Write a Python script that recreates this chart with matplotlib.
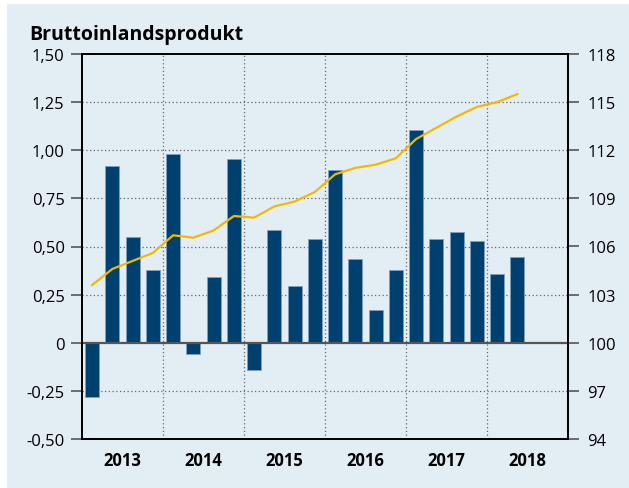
import matplotlib
matplotlib.use("Agg")
import matplotlib.pyplot as plt
import numpy as np
from matplotlib.patches import Rectangle

plt.rcParams['font.family'] = ['Open Sans', 'DejaVu Sans']

years = [2013, 2014, 2015, 2016, 2017, 2018]
quarter_labels = ["2013Q1","2013Q2","2013Q3","2013Q4",
                  "2014Q1","2014Q2","2014Q3","2014Q4",
                  "2015Q1","2015Q2","2015Q3","2015Q4",
                  "2016Q1","2016Q2","2016Q3","2016Q4",
                  "2017Q1","2017Q2","2017Q3","2017Q4",
                  "2018Q1","2018Q2"]
growth = [-0.28, 0.92, 0.55, 0.38,
          0.98, -0.06, 0.34, 0.955,
          -0.14, 0.585, 0.295, 0.54,
          0.895, 0.435, 0.17, 0.38,
          1.105, 0.54, 0.575, 0.53,
          0.355, 0.445]
index = [103.6, 104.6, 105.1, 105.6,
         106.7, 106.55, 107.0, 107.9,
         107.8, 108.5, 108.8, 109.4,
         110.5, 110.9, 111.1, 111.5,
         112.7, 113.4, 114.1, 114.7,
         115.0, 115.5]
left_ticks = [-0.5, -0.25, 0, 0.25, 0.5, 0.75, 1.0, 1.25, 1.5]
left_labels = ["-0,50", "-0,25", "0", "0,25", "0,50", "0,75", "1,00", "1,25", "1,50"]
right_ticks = [94, 97, 100, 103, 106, 109, 112, 115, 118]

BG = '#e3edf4'
BAR = '#00406f'
LINE = '#f5b800'

W, H = 629, 489
fig = plt.figure(figsize=(W/100, H/100), dpi=100, facecolor='white')
fig.patches.append(Rectangle((7/W, 0), 1 - 7/W, 1 - 5/H, transform=fig.transFigure,
                             facecolor=BG, edgecolor='none', zorder=-10))

ax = fig.add_axes([82/W, 1 - 440/H, (568 - 82)/W, (440 - 55)/H])
ax.set_facecolor(BG)

x = np.array([int(q[:4]) + (int(q[-1]) - 0.5) / 4 for q in quarter_labels])

ax.set_xlim(2013, 2019)
ax.set_ylim(-0.5, 1.5)

# gridlines
for yv in left_ticks[1:-1]:
    if yv != 0:
        ax.axhline(yv, color='#666666', lw=0.9, ls=(0, (1, 2)), zorder=1)
for yr in years[1:]:
    ax.axvline(yr, color='#666666', lw=0.9, ls=(0, (1, 2)), zorder=1)

ax.bar(x, growth, width=0.175, color=BAR, edgecolor='#7f9fbd', linewidth=0.6, zorder=2)
ax.axhline(0, color='#555555', lw=1.6, zorder=3)

ax.set_yticks(left_ticks)
ax.set_yticklabels(left_labels)
ax.set_xticks([y + 0.5 for y in years])
ax.set_xticklabels([str(y) for y in years], fontweight='bold')
ax.tick_params(axis='x', length=0, pad=9, labelsize=12)
ax.tick_params(axis='y', length=8, width=1.2, color='#555555', pad=4.5, labelsize=12)

for s in ax.spines.values():
    s.set_color('black')
    s.set_linewidth(1.3)

ax2 = ax.twinx()
ax2.set_ylim(94, 118)
ax2.plot(x, index, color=LINE, lw=1.6, zorder=4)
ax2.set_yticks(right_ticks)
ax2.set_yticklabels([str(t) for t in right_ticks])
ax2.tick_params(axis='y', length=8, width=1.2, color='#555555', pad=6, labelsize=12)
for s in ax2.spines.values():
    s.set_color('black')
    s.set_linewidth(1.3)

fig.text(29/W, 1 - 40/H, "Bruttoinlandsprodukt", fontsize=14, fontweight='bold',
         ha='left', va='baseline')

fig.savefig("out.png", dpi=100, facecolor='white')
